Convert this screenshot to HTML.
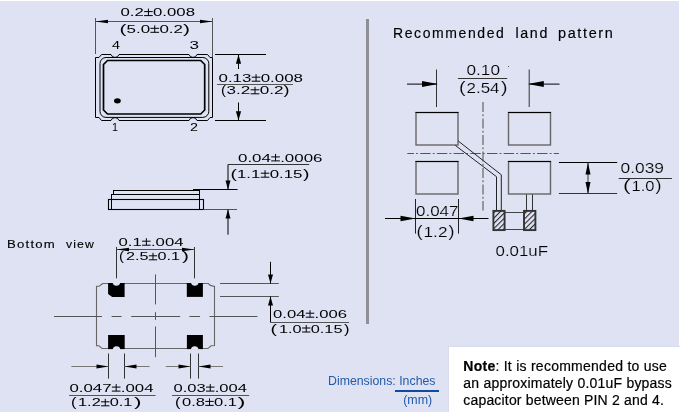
<!DOCTYPE html>
<html><head><meta charset="utf-8"><style>
html,body{margin:0;padding:0;background:#fff;}
body{width:680px;height:412px;overflow:hidden;position:relative;font-family:"Liberation Sans",sans-serif;}
svg{position:absolute;left:0;top:0;}
#d{will-change:transform;}
</style></head><body>
<svg id="d" width="680" height="412" viewBox="0 0 680 412">
<rect x="0" y="1" width="679" height="411" fill="#DFE2F3"/>
<line x1="95.5" y1="18" x2="95.5" y2="54" stroke="#555" stroke-width="1" />
<line x1="212.5" y1="18" x2="212.5" y2="57" stroke="#555" stroke-width="1" />
<line x1="95.5" y1="21.5" x2="212.5" y2="21.5" stroke="#555" stroke-width="1" />
<polygon points="95.5,21.5 108.00,19.70 108.00,23.30" fill="#000"/>
<polygon points="212.5,21.5 200.00,23.30 200.00,19.70" fill="#000"/>
<path d="M 95.5 57.5 L 99 57.5 L 101.5 54.5 L 111 54.5 A 4.2 4.2 0 0 0 119 54.5 L 189 54.5 A 4.2 4.2 0 0 0 197 54.5 L 207.5 54.5 L 210 57.5 L 212.5 57.5 L 212.5 117.5 L 210 117.5 L 207.5 120.5 L 197 120.5 A 4.2 4.2 0 0 0 189 120.5 L 119 120.5 A 4.2 4.2 0 0 0 111 120.5 L 101.5 120.5 L 99 117.5 L 95.5 117.5 Z" fill="none" stroke="#000" stroke-width="1"/>
<rect x="100" y="57.5" width="108.8" height="59.9" rx="6" ry="6" fill="none" stroke="#000" stroke-width="1"/>
<path d="M 107.5 60.5 L 200.7 60.5 L 204.7 64.5 L 204.7 110 L 200.7 114 L 107.5 114 L 103.5 110 L 103.5 64.5 Z" fill="none" stroke="#000" stroke-width="1.7"/>
<ellipse cx="117.4" cy="100.8" rx="3.4" ry="2.6" fill="#000"/>
<line x1="215" y1="54.5" x2="266" y2="54.5" stroke="#000" stroke-width="1" />
<line x1="215" y1="120.5" x2="266" y2="120.5" stroke="#000" stroke-width="1" />
<line x1="238.5" y1="54.5" x2="238.5" y2="69" stroke="#000" stroke-width="1" />
<polygon points="238.5,54.5 241.10,63.80 235.90,63.80" fill="#000"/>
<line x1="238.5" y1="102.5" x2="238.5" y2="120.5" stroke="#000" stroke-width="1" />
<polygon points="238.5,120.5 235.90,111.20 241.10,111.20" fill="#000"/>
<line x1="217.1" y1="84.5" x2="292.9" y2="84.5" stroke="#555" stroke-width="1" />
<rect x="113.5" y="190.5" width="86" height="4" fill="none" stroke="#000" stroke-width="1"/>
<rect x="111.5" y="194.5" width="88" height="5" fill="none" stroke="#000" stroke-width="1"/>
<rect x="108.5" y="199.5" width="95" height="10" fill="none" stroke="#000" stroke-width="1.1"/>
<line x1="111.5" y1="199" x2="111.5" y2="209.5" stroke="#000" stroke-width="1" />
<line x1="199.5" y1="199" x2="199.5" y2="209.5" stroke="#000" stroke-width="1" />
<line x1="193" y1="189.5" x2="237.5" y2="189.5" stroke="#000" stroke-width="1" />
<line x1="193" y1="190" x2="199.5" y2="190" stroke="#000" stroke-width="1.2" />
<line x1="203.5" y1="209.5" x2="237" y2="209.5" stroke="#555" stroke-width="1" />
<line x1="228" y1="164.5" x2="309.2" y2="164.5" stroke="#333" stroke-width="1" />
<line x1="228" y1="164.5" x2="228" y2="189.5" stroke="#000" stroke-width="1" />
<polygon points="228,189.5 225.50,180.50 230.50,180.50" fill="#000"/>
<line x1="228" y1="209.5" x2="228" y2="234.7" stroke="#000" stroke-width="1" />
<polygon points="228,209.5 230.50,218.50 225.50,218.50" fill="#000"/>
<line x1="116.5" y1="247" x2="116.5" y2="280" stroke="#333" stroke-width="1" />
<line x1="194.5" y1="247" x2="194.5" y2="280" stroke="#333" stroke-width="1" />
<line x1="116.5" y1="249.5" x2="194.5" y2="249.5" stroke="#555" stroke-width="1" />
<polygon points="116.5,249.5 129.00,247.70 129.00,251.30" fill="#000"/>
<polygon points="194.5,249.5 182.00,251.30 182.00,247.70" fill="#000"/>
<path d="M 102.7 283.5 L 208.3 283.5 L 210.3 285.4 L 214.5 286.5 L 214.5 345.5 L 211.5 345.8 C 209.5 346.2 209 348.5 207.5 348.5 L 102.5 348.5 C 101 348.5 100.5 346.2 98.5 345.8 L 96.5 345.8 L 96.5 286.4 L 99.5 286 L 102.7 283.5" fill="none" stroke="#666" stroke-width="1.1"/>
<path d="M 108.1 283 L 124.6 283 L 124.6 296.9 L 112.19999999999999 296.9 L 108.1 294.0 Z" fill="#000"/>
<path d="M 186.8 283 L 202.9 283 L 202.9 296.9 L 186.8 296.9 Z" fill="#000"/>
<path d="M 108.1 335 L 124.7 335 L 124.7 349.1 L 108.1 349.1 Z" fill="#000"/>
<path d="M 186.9 335 L 202.9 335 L 202.9 349.1 L 186.9 349.1 Z" fill="#000"/>
<circle cx="116.4" cy="282.0" r="3.75" fill="#DFE2F3"/>
<circle cx="194.8" cy="282.0" r="3.75" fill="#DFE2F3"/>
<circle cx="116.5" cy="350.1" r="3.75" fill="#DFE2F3"/>
<circle cx="194.7" cy="350.1" r="3.75" fill="#DFE2F3"/>
<line x1="54" y1="316.5" x2="102" y2="316.5" stroke="#555" stroke-width="1" />
<line x1="111.6" y1="316.5" x2="121.6" y2="316.5" stroke="#555" stroke-width="1" />
<line x1="131.2" y1="316.5" x2="180.2" y2="316.5" stroke="#555" stroke-width="1" />
<line x1="189.4" y1="316.5" x2="200" y2="316.5" stroke="#555" stroke-width="1" />
<line x1="209.5" y1="316.5" x2="257.4" y2="316.5" stroke="#555" stroke-width="1" />
<line x1="155.5" y1="274.4" x2="155.5" y2="304.4" stroke="#555" stroke-width="1" />
<line x1="155.5" y1="312.1" x2="155.5" y2="319.9" stroke="#555" stroke-width="1" />
<line x1="155.5" y1="326.5" x2="155.5" y2="357.2" stroke="#555" stroke-width="1" />
<line x1="220" y1="283.5" x2="278.8" y2="283.5" stroke="#555" stroke-width="1" />
<line x1="220" y1="296.5" x2="278.8" y2="296.5" stroke="#555" stroke-width="1" />
<line x1="270.5" y1="261.8" x2="270.5" y2="283.5" stroke="#000" stroke-width="1" />
<polygon points="270.5,283.5 268.00,274.50 273.00,274.50" fill="#000"/>
<line x1="270.5" y1="296.5" x2="270.5" y2="322.5" stroke="#000" stroke-width="1" />
<polygon points="270.5,296.5 273.00,305.50 268.00,305.50" fill="#000"/>
<line x1="270.5" y1="322.5" x2="349.1" y2="322.5" stroke="#555" stroke-width="1" />
<line x1="108.5" y1="353.5" x2="108.5" y2="378.6" stroke="#333" stroke-width="1" />
<line x1="124.5" y1="353.5" x2="124.5" y2="378.6" stroke="#333" stroke-width="1" />
<line x1="190.5" y1="353.5" x2="190.5" y2="378.6" stroke="#333" stroke-width="1" />
<line x1="198.5" y1="353.5" x2="198.5" y2="378.6" stroke="#333" stroke-width="1" />
<line x1="71.3" y1="366.5" x2="108.5" y2="366.5" stroke="#777" stroke-width="1" />
<polygon points="108.5,366.5 96.50,368.40 96.50,364.60" fill="#000"/>
<line x1="124.5" y1="366.5" x2="149.6" y2="366.5" stroke="#777" stroke-width="1" />
<polygon points="124.5,366.5 136.50,364.60 136.50,368.40" fill="#000"/>
<line x1="165.8" y1="366.5" x2="190.5" y2="366.5" stroke="#777" stroke-width="1" />
<polygon points="190.5,366.5 178.50,368.40 178.50,364.60" fill="#000"/>
<line x1="198.5" y1="366.5" x2="223" y2="366.5" stroke="#777" stroke-width="1" />
<polygon points="198.5,366.5 210.50,364.60 210.50,368.40" fill="#000"/>
<line x1="69.1" y1="395.5" x2="155.6" y2="395.5" stroke="#555" stroke-width="1" />
<line x1="172" y1="395.5" x2="249.2" y2="395.5" stroke="#555" stroke-width="1" />
<rect x="366" y="19" width="3" height="305" fill="#8F8F94"/>
<rect x="416" y="112.5" width="42" height="32.5" fill="none" stroke="#666" stroke-width="1.4"/>
<line x1="415.5" y1="112.5" x2="458.5" y2="112.5" stroke="#000" stroke-width="1" />
<rect x="508.5" y="112.5" width="42" height="32.5" fill="none" stroke="#666" stroke-width="1.4"/>
<line x1="508.0" y1="112.5" x2="551.0" y2="112.5" stroke="#000" stroke-width="1" />
<rect x="416" y="161.5" width="42" height="32.5" fill="none" stroke="#666" stroke-width="1.4"/>
<line x1="415.5" y1="161.5" x2="458.5" y2="161.5" stroke="#000" stroke-width="1" />
<rect x="508.5" y="161.5" width="42" height="32.5" fill="none" stroke="#666" stroke-width="1.4"/>
<line x1="508.0" y1="161.5" x2="551.0" y2="161.5" stroke="#000" stroke-width="1" />
<line x1="436.5" y1="69.5" x2="436.5" y2="107" stroke="#333" stroke-width="1" />
<line x1="407" y1="84.1" x2="436.5" y2="84.1" stroke="#000" stroke-width="1" />
<polygon points="438,84.1 422.00,87.10 422.00,81.10" fill="#000"/>
<line x1="529.2" y1="84.1" x2="559.5" y2="84.1" stroke="#000" stroke-width="1" />
<polygon points="527.8,84.1 543.80,81.10 543.80,87.10" fill="#000"/>
<line x1="457.9" y1="78.5" x2="507.2" y2="78.5" stroke="#333" stroke-width="1" />
<line x1="529.2" y1="69.5" x2="529.2" y2="107" stroke="#333" stroke-width="1" />
<line x1="483" y1="101.9" x2="483" y2="210.6" stroke="#666" stroke-width="1.2" stroke-dasharray="10,2.3,2,2.2"/>
<line x1="407.3" y1="153.5" x2="558.9" y2="153.5" stroke="#555" stroke-width="1" stroke-dasharray="10.4,2.2,1.8,2.3" stroke-dashoffset="3.8"/>
<polyline points="455.3,145.4 496.5,176.7 496.5,210.4" fill="none" stroke="#222" stroke-width="1"/>
<polyline points="458.1,140.9 501.3,174.8 501.3,210.4" fill="none" stroke="#222" stroke-width="1"/>
<line x1="526.5" y1="194.5" x2="526.5" y2="210.4" stroke="#333" stroke-width="1" />
<line x1="532.5" y1="194.5" x2="532.5" y2="210.4" stroke="#333" stroke-width="1" />
<defs><pattern id="h" width="3.7" height="3.7" patternUnits="userSpaceOnUse" patternTransform="translate(494,212) rotate(45)"><line x1="0.5" y1="-1" x2="0.5" y2="6" stroke="#222" stroke-width="1.1"/></pattern></defs>
<line x1="505" y1="212.5" x2="523.3" y2="212.5" stroke="#444" stroke-width="1" />
<line x1="505" y1="229.5" x2="523.3" y2="229.5" stroke="#444" stroke-width="1" />
<rect x="493.4" y="210.9" width="11.2" height="19.2" fill="url(#h)" stroke="#333" stroke-width="1.9"/>
<rect x="524" y="210.9" width="11.4" height="19.2" fill="url(#h)" stroke="#333" stroke-width="1.9"/>
<line x1="415.5" y1="199" x2="415.5" y2="233.6" stroke="#222" stroke-width="1" />
<line x1="458.5" y1="199" x2="458.5" y2="233.6" stroke="#222" stroke-width="1" />
<line x1="385" y1="218.5" x2="488.5" y2="218.5" stroke="#000" stroke-width="1" />
<polygon points="415.5,218.5 400.50,221.25 400.50,215.75" fill="#000"/>
<polygon points="458.5,218.5 473.50,215.75 473.50,221.25" fill="#000"/>
<line x1="558.9" y1="162.5" x2="617.2" y2="162.5" stroke="#000" stroke-width="1" />
<line x1="558.9" y1="193.5" x2="617.2" y2="193.5" stroke="#333" stroke-width="1" />
<line x1="588" y1="162.5" x2="588" y2="194" stroke="#333" stroke-width="1" />
<polygon points="588,162.5 590.50,174.50 585.50,174.50" fill="#000"/>
<polygon points="588,194 585.50,182.00 590.50,182.00" fill="#000"/>
<line x1="618.7" y1="178.5" x2="671.9" y2="178.5" stroke="#333" stroke-width="1" />
<rect x="508" y="66" width="1" height="1" fill="#555"/>
<text x="120.5" y="16.2" font-family="Liberation Sans" font-size="10.5" fill="#000" font-weight="normal" textLength="74.5" lengthAdjust="spacingAndGlyphs" id="pm_T1">0.2<tspan fill-opacity="0">&#177;</tspan>0.008</text>
<path d="M 144.13 11.60 H 152.73 M 144.13 15.60 H 152.73 M 148.43 8.60 V 15.60" stroke="#000" stroke-width="1.0" fill="none"/>
<text x="112.0" y="49" font-family="Liberation Sans" font-size="10.5" fill="#000" font-weight="normal" textLength="8.0" lengthAdjust="spacingAndGlyphs" >4</text>
<text x="189.5" y="49" font-family="Liberation Sans" font-size="10.5" fill="#000" font-weight="normal" textLength="9.5" lengthAdjust="spacingAndGlyphs" >3</text>
<text x="112.0" y="130.9" font-family="Liberation Sans" font-size="10.5" fill="#000" font-weight="normal" textLength="6.0" lengthAdjust="spacingAndGlyphs" >1</text>
<text x="190.0" y="130.9" font-family="Liberation Sans" font-size="10.5" fill="#000" font-weight="normal" textLength="8.0" lengthAdjust="spacingAndGlyphs" >2</text>
<text x="218.5" y="81.8" font-family="Liberation Sans" font-size="10.5" fill="#000" font-weight="normal" textLength="84.5" lengthAdjust="spacingAndGlyphs" id="pm_T7">0.13<tspan fill-opacity="0">&#177;</tspan>0.008</text>
<path d="M 251.70 77.20 H 260.39 M 251.70 81.20 H 260.39 M 256.05 74.20 V 81.20" stroke="#000" stroke-width="1.0" fill="none"/>
<text x="238.0" y="161.5" font-family="Liberation Sans" font-size="10.5" fill="#000" font-weight="normal" textLength="84.5" lengthAdjust="spacingAndGlyphs" id="pm_T9">0.04<tspan fill-opacity="0">&#177;</tspan>.0006</text>
<path d="M 271.20 156.90 H 279.89 M 271.20 160.90 H 279.89 M 275.55 153.90 V 160.90" stroke="#000" stroke-width="1.0" fill="none"/>
<text x="7.0" y="248.2" font-family="Liberation Sans" font-size="10.8" fill="#000" font-weight="normal" textLength="49.0" lengthAdjust="spacingAndGlyphs" letter-spacing="1" stroke="#000" stroke-width="0.12">Bottom</text>
<text x="66.0" y="248.2" font-family="Liberation Sans" font-size="10.8" fill="#000" font-weight="normal" textLength="29.0" lengthAdjust="spacingAndGlyphs" letter-spacing="1" stroke="#000" stroke-width="0.12">view</text>
<text x="393.0" y="37.7" font-family="Liberation Sans" font-size="14" fill="#000" font-weight="normal" textLength="112.5" lengthAdjust="spacingAndGlyphs" letter-spacing="1.6" stroke="#000" stroke-width="0.15">Recommended</text>
<text x="515.5" y="37.7" font-family="Liberation Sans" font-size="14" fill="#000" font-weight="normal" textLength="33.5" lengthAdjust="spacingAndGlyphs" letter-spacing="1.6" stroke="#000" stroke-width="0.15">land</text>
<text x="558.0" y="37.7" font-family="Liberation Sans" font-size="14" fill="#000" font-weight="normal" textLength="56.5" lengthAdjust="spacingAndGlyphs" letter-spacing="1.6" stroke="#000" stroke-width="0.15">pattern</text>
<text x="118.5" y="245.8" font-family="Liberation Sans" font-size="10.5" fill="#000" font-weight="normal" textLength="65.0" lengthAdjust="spacingAndGlyphs" id="pm_T12">0.1<tspan fill-opacity="0">&#177;</tspan>.004</text>
<path d="M 142.07 241.20 H 150.65 M 142.07 245.20 H 150.65 M 146.36 238.20 V 245.20" stroke="#000" stroke-width="1.0" fill="none"/>
<text x="273.0" y="317.8" font-family="Liberation Sans" font-size="10.5" fill="#000" font-weight="normal" textLength="74.0" lengthAdjust="spacingAndGlyphs" id="pm_T14">0.04<tspan fill-opacity="0">&#177;</tspan>.006</text>
<path d="M 305.73 313.20 H 314.27 M 305.73 317.20 H 314.27 M 310.00 310.20 V 317.20" stroke="#000" stroke-width="1.0" fill="none"/>
<text x="69.5" y="391.7" font-family="Liberation Sans" font-size="10.5" fill="#000" font-weight="normal" textLength="84.0" lengthAdjust="spacingAndGlyphs" id="pm_T16">0.047<tspan fill-opacity="0">&#177;</tspan>.004</text>
<path d="M 111.86 387.10 H 120.49 M 111.86 391.10 H 120.49 M 116.18 384.10 V 391.10" stroke="#000" stroke-width="1.0" fill="none"/>
<text x="173.5" y="391.7" font-family="Liberation Sans" font-size="10.5" fill="#000" font-weight="normal" textLength="73.5" lengthAdjust="spacingAndGlyphs" id="pm_T18">0.03<tspan fill-opacity="0">&#177;</tspan>.004</text>
<path d="M 206.01 387.10 H 214.49 M 206.01 391.10 H 214.49 M 210.25 384.10 V 391.10" stroke="#000" stroke-width="1.0" fill="none"/>
<text x="466.5" y="75.4" font-family="Liberation Sans" font-size="14.2" fill="#000" font-weight="normal" textLength="33.5" lengthAdjust="spacingAndGlyphs" stroke="#DFE2F3" stroke-width="0.15" >0.10</text>
<text x="416.0" y="216.3" font-family="Liberation Sans" font-size="14.2" fill="#000" font-weight="normal" textLength="42.5" lengthAdjust="spacingAndGlyphs" stroke="#DFE2F3" stroke-width="0.15" >0.047</text>
<text x="620.5" y="172.8" font-family="Liberation Sans" font-size="14.2" fill="#000" font-weight="normal" textLength="43.5" lengthAdjust="spacingAndGlyphs" stroke="#DFE2F3" stroke-width="0.15" >0.039</text>
<text x="495.5" y="256.4" font-family="Liberation Sans" font-size="14.2" fill="#000" font-weight="normal" textLength="52.5" lengthAdjust="spacingAndGlyphs" stroke="#DFE2F3" stroke-width="0.15" >0.01uF</text>
<text x="119.5" y="32.9" font-family="Liberation Sans" font-size="12.6" fill="#000" font-weight="normal" textLength="7.0" lengthAdjust="spacingAndGlyphs" >(</text>
<text x="126.5" y="32.9" font-family="Liberation Sans" font-size="10.5" fill="#000" font-weight="normal" textLength="56.5" lengthAdjust="spacingAndGlyphs" id="pm_T2i">5.0<tspan fill-opacity="0">&#177;</tspan>0.2</text>
<path d="M 150.39 28.30 H 159.08 M 150.39 32.30 H 159.08 M 154.74 25.30 V 32.30" stroke="#000" stroke-width="1.0" fill="none"/>
<text x="183.0" y="32.9" font-family="Liberation Sans" font-size="12.6" fill="#000" font-weight="normal" textLength="7.0" lengthAdjust="spacingAndGlyphs" >)</text>
<text x="221.0" y="94.4" font-family="Liberation Sans" font-size="12.6" fill="#000" font-weight="normal" textLength="5.0" lengthAdjust="spacingAndGlyphs" >(</text>
<text x="226.5" y="94.4" font-family="Liberation Sans" font-size="10.5" fill="#000" font-weight="normal" textLength="57.0" lengthAdjust="spacingAndGlyphs" id="pm_T8i">3.2<tspan fill-opacity="0">&#177;</tspan>0.2</text>
<path d="M 250.60 89.80 H 259.40 M 250.60 93.80 H 259.40 M 255.00 86.80 V 93.80" stroke="#000" stroke-width="1.0" fill="none"/>
<text x="283.5" y="94.4" font-family="Liberation Sans" font-size="12.6" fill="#000" font-weight="normal" textLength="6.0" lengthAdjust="spacingAndGlyphs" >)</text>
<text x="230.5" y="177.8" font-family="Liberation Sans" font-size="12.6" fill="#000" font-weight="normal" textLength="6.5" lengthAdjust="spacingAndGlyphs" >(</text>
<text x="237.0" y="177.8" font-family="Liberation Sans" font-size="10.5" fill="#000" font-weight="normal" textLength="65.5" lengthAdjust="spacingAndGlyphs" id="pm_T10i">1.1<tspan fill-opacity="0">&#177;</tspan>0.15</text>
<path d="M 260.75 173.20 H 269.37 M 260.75 177.20 H 269.37 M 265.06 170.20 V 177.20" stroke="#000" stroke-width="1.0" fill="none"/>
<text x="303.0" y="177.8" font-family="Liberation Sans" font-size="12.6" fill="#000" font-weight="normal" textLength="6.5" lengthAdjust="spacingAndGlyphs" >)</text>
<text x="119.0" y="260.4" font-family="Liberation Sans" font-size="12.6" fill="#000" font-weight="normal" textLength="5.0" lengthAdjust="spacingAndGlyphs" >(</text>
<text x="126.0" y="260.4" font-family="Liberation Sans" font-size="10.5" fill="#000" font-weight="normal" textLength="54.0" lengthAdjust="spacingAndGlyphs" id="pm_T13i">2.5<tspan fill-opacity="0">&#177;</tspan>0.1</text>
<path d="M 148.85 255.80 H 157.15 M 148.85 259.80 H 157.15 M 153.00 252.80 V 259.80" stroke="#000" stroke-width="1.0" fill="none"/>
<text x="182.0" y="260.4" font-family="Liberation Sans" font-size="12.6" fill="#000" font-weight="normal" textLength="7.0" lengthAdjust="spacingAndGlyphs" >)</text>
<text x="270.5" y="332.6" font-family="Liberation Sans" font-size="12.6" fill="#000" font-weight="normal" textLength="6.5" lengthAdjust="spacingAndGlyphs" >(</text>
<text x="279.0" y="332.6" font-family="Liberation Sans" font-size="10.5" fill="#000" font-weight="normal" textLength="63.5" lengthAdjust="spacingAndGlyphs" id="pm_T15i">1.0<tspan fill-opacity="0">&#177;</tspan>0.15</text>
<path d="M 302.03 328.00 H 310.40 M 302.03 332.00 H 310.40 M 306.22 325.00 V 332.00" stroke="#000" stroke-width="1.0" fill="none"/>
<text x="344.0" y="332.6" font-family="Liberation Sans" font-size="12.6" fill="#000" font-weight="normal" textLength="5.5" lengthAdjust="spacingAndGlyphs" >)</text>
<text x="71.0" y="406.4" font-family="Liberation Sans" font-size="12.6" fill="#000" font-weight="normal" textLength="5.5" lengthAdjust="spacingAndGlyphs" >(</text>
<text x="78.0" y="406.4" font-family="Liberation Sans" font-size="10.5" fill="#000" font-weight="normal" textLength="54.5" lengthAdjust="spacingAndGlyphs" id="pm_T17i">1.2<tspan fill-opacity="0">&#177;</tspan>0.1</text>
<path d="M 101.06 401.80 H 109.44 M 101.06 405.80 H 109.44 M 105.25 398.80 V 405.80" stroke="#000" stroke-width="1.0" fill="none"/>
<text x="134.0" y="406.4" font-family="Liberation Sans" font-size="12.6" fill="#000" font-weight="normal" textLength="7.5" lengthAdjust="spacingAndGlyphs" >)</text>
<text x="175.0" y="406.0" font-family="Liberation Sans" font-size="12.6" fill="#000" font-weight="normal" textLength="5.5" lengthAdjust="spacingAndGlyphs" >(</text>
<text x="182.0" y="406.0" font-family="Liberation Sans" font-size="10.5" fill="#000" font-weight="normal" textLength="55.0" lengthAdjust="spacingAndGlyphs" id="pm_T19i">0.8<tspan fill-opacity="0">&#177;</tspan>0.1</text>
<path d="M 205.27 401.40 H 213.73 M 205.27 405.40 H 213.73 M 209.50 398.40 V 405.40" stroke="#000" stroke-width="1.0" fill="none"/>
<text x="237.5" y="406.0" font-family="Liberation Sans" font-size="12.6" fill="#000" font-weight="normal" textLength="8.0" lengthAdjust="spacingAndGlyphs" >)</text>
<text x="459.0" y="92.8" font-family="Liberation Sans" font-size="16.7" fill="#000" font-weight="normal" textLength="6.5" lengthAdjust="spacingAndGlyphs" stroke="#DFE2F3" stroke-width="0.15" >(</text>
<text x="466.5" y="92.8" font-family="Liberation Sans" font-size="14.2" fill="#000" font-weight="normal" textLength="33.0" lengthAdjust="spacingAndGlyphs" stroke="#DFE2F3" stroke-width="0.15" >2.54</text>
<text x="501.0" y="92.8" font-family="Liberation Sans" font-size="16.7" fill="#000" font-weight="normal" textLength="6.5" lengthAdjust="spacingAndGlyphs" stroke="#DFE2F3" stroke-width="0.15" >)</text>
<text x="416.5" y="236.8" font-family="Liberation Sans" font-size="16.7" fill="#000" font-weight="normal" textLength="6.0" lengthAdjust="spacingAndGlyphs" stroke="#DFE2F3" stroke-width="0.15" >(</text>
<text x="423.5" y="236.8" font-family="Liberation Sans" font-size="14.2" fill="#000" font-weight="normal" textLength="24.0" lengthAdjust="spacingAndGlyphs" stroke="#DFE2F3" stroke-width="0.15" >1.2</text>
<text x="448.5" y="236.8" font-family="Liberation Sans" font-size="16.7" fill="#000" font-weight="normal" textLength="6.0" lengthAdjust="spacingAndGlyphs" stroke="#DFE2F3" stroke-width="0.15" >)</text>
<text x="623.0" y="190.9" font-family="Liberation Sans" font-size="16.7" fill="#000" font-weight="normal" textLength="7.5" lengthAdjust="spacingAndGlyphs" stroke="#DFE2F3" stroke-width="0.15" >(</text>
<text x="631.5" y="190.9" font-family="Liberation Sans" font-size="14.2" fill="#000" font-weight="normal" textLength="23.0" lengthAdjust="spacingAndGlyphs" stroke="#DFE2F3" stroke-width="0.15" >1.0</text>
<text x="655.5" y="190.9" font-family="Liberation Sans" font-size="16.7" fill="#000" font-weight="normal" textLength="6.0" lengthAdjust="spacingAndGlyphs" stroke="#DFE2F3" stroke-width="0.15" >)</text>
<rect x="448" y="346" width="232" height="66" fill="#D9DCEF"/>
<rect x="449" y="347" width="231" height="65" fill="#fff"/>
</svg>
<svg width="680" height="412" viewBox="0 0 680 412">
<text x="328" y="384.7" font-family="Liberation Sans" font-size="13" fill="#1F5BAA" font-weight="normal" textLength="107.5" lengthAdjust="spacingAndGlyphs" >Dimensions: Inches</text>
<rect x="395" y="390" width="44" height="2" fill="#0D4C9F"/>
<text x="403.2" y="404" font-family="Liberation Sans" font-size="13" fill="#1F5BAA" font-weight="normal" textLength="29" lengthAdjust="spacingAndGlyphs" >(mm)</text>
<text x="463.3" y="370.9" font-family="Liberation Sans" font-size="14" fill="#000" stroke="#000" stroke-width="0.2" textLength="203.5" lengthAdjust="spacing"><tspan font-weight="bold">Note</tspan>: It is recommended to use</text>
<text x="463.3" y="387.7" font-family="Liberation Sans" font-size="14" fill="#000" stroke="#000" stroke-width="0.2" textLength="208.5" lengthAdjust="spacing">an approximately 0.01uF bypass</text>
<text x="463.3" y="404.5" font-family="Liberation Sans" font-size="14" fill="#000" stroke="#000" stroke-width="0.2" textLength="200.5" lengthAdjust="spacing">capacitor between PIN 2 and 4.</text>
</svg>
</body></html>
